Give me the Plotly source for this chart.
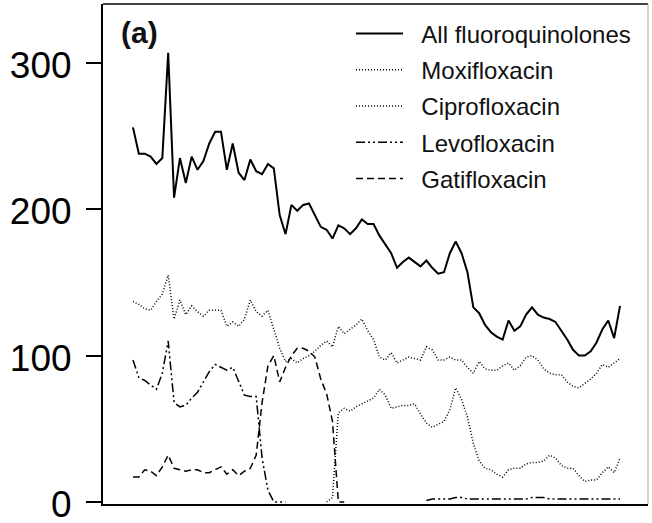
import plotly.graph_objects as go

months = list(range(84))

all_fq = [256, 238, 238, 236, 231, 235, 307, 208, 235, 218,
          236, 227, 233, 245, 253, 253, 227, 245, 225, 220,
          234, 226, 224, 231, 228, 196, 183, 203, 199, 203,
          204, 196, 188, 186, 180, 189, 187, 183, 187, 193,
          190, 190, 182, 176, 170, 160, 164, 167, 164, 161,
          165, 160, 156, 157, 170, 178, 170, 157, 133, 129,
          121, 116, 113, 111, 124, 117, 120, 128, 133, 128,
          126, 125, 123, 117, 111, 104, 100, 100, 103, 109,
          118, 124, 112, 134]

moxifloxacin = [None] * 33 + [
    0, 3, 61, 64, 62, 65, 67, 69, 71, 77,
    73, 64, 65, 66, 66, 67, 60, 54, 51, 53,
    55, 63, 78, 70, 58, 40, 28, 23, 22, 19,
    17, 22, 23, 23, 26, 27, 27, 28, 32, 30,
    25, 23, 23, 18, 14, 15, 15, 20, 24, 20,
    30]

ciprofloxacin = [137, 135, 132, 131, 137, 142, 155, 125, 138, 128,
                 134, 130, 127, 131, 131, 131, 120, 123, 120, 125,
                 138, 130, 127, 131, 118, 105, 96, 98, 95, 98,
                 100, 103, 107, 110, 106, 120, 115, 118, 121, 125,
                 117, 111, 99, 97, 102, 95, 97, 99, 98, 97,
                 106, 104, 97, 97, 99, 97, 97, 92, 88, 96,
                 91, 90, 90, 93, 95, 90, 93, 99, 100, 97,
                 91, 88, 87, 87, 82, 79, 78, 81, 84, 88,
                 94, 92, 95, 98]

levofloxacin = [97, 85, 83, 80, 77, 88, 110, 68, 65, 66,
                71, 75, 82, 89, 94, 92, 90, 92, 82, 73,
                72, 72, 30, 8, 0, 0, 0] + [None] * 23 + [
                1, 2, 2, 2, 2, 3, 3, 2, 2, 2,
                2, 2, 2, 2, 2, 2, 2, 2, 3, 3,
                3, 2, 2, 2, 2, 2, 2, 2, 2, 2,
                2, 2, 2, 2]

gatifloxacin = [17, 17, 22, 21, 18, 24, 32, 23, 22, 21,
                22, 22, 20, 20, 22, 24, 19, 22, 18, 21,
                23, 32, 68, 93, 100, 82, 92, 100, 105, 105,
                103, 99, 84, 74, 55, 0, 0] + [None] * 47

y_ticks = [0, 100, 200, 300]
y_tick_labels = ["0", "100", "200", "300"]

series = [
    ("All fluoroquinolones", all_fq, dict(color="black", width=2, dash="solid")),
    ("Moxifloxacin", moxifloxacin, dict(color="black", width=1.5, dash="1px,2px")),
    ("Ciprofloxacin", ciprofloxacin, dict(color="black", width=1.5, dash="1px,2px")),
    ("Levofloxacin", levofloxacin, dict(color="black", width=1.5, dash="9px,3px,2px,3px,2px,3px")),
    ("Gatifloxacin", gatifloxacin, dict(color="black", width=1.5, dash="7px,4px")),
]

fig = go.Figure()
for name, vals, line in series:
    fig.add_trace(go.Scatter(x=months, y=vals, mode="lines",
                             name="\u00a0\u00a0" + name,
                             line=line, legendgroup=name, connectgaps=False))

fig.update_layout(
    width=652, height=523,
    margin=dict(l=103, r=4, t=4, b=19, autoexpand=False),
    paper_bgcolor="white", plot_bgcolor="white",
    font=dict(family="Liberation Sans, Arial, sans-serif", color="black"),
    showlegend=True,
    legend=dict(x=0.455, y=0.985, xanchor="left", yanchor="top",
                bgcolor="rgba(0,0,0,0)", borderwidth=0,
                font=dict(size=24, color="#111"),
                itemwidth=47, tracegroupgap=2),
    xaxis=dict(range=[-5.11, 87.77], showgrid=False, zeroline=False,
               showticklabels=False, ticks="", showline=True,
               linecolor="black", linewidth=2),
    yaxis=dict(range=[-1.4, 340.3], showgrid=False, zeroline=False,
               tickmode="array", tickvals=y_ticks, ticktext=y_tick_labels,
               ticks="outside", ticklen=15, tickwidth=1.5, tickcolor="black",
               tickfont=dict(size=37, color="black", family="Liberation Sans, Arial, sans-serif"),
               ticklabelstandoff=7, ticklabelshift=2, ticklabeloverflow="allow",
               showline=True, linecolor="black", linewidth=2),
)

fig.add_shape(type="line", xref="paper", yref="paper", x0=0, x1=1, y0=1, y1=1,
              line=dict(color="#444", width=2))
fig.add_shape(type="line", xref="paper", yref="paper", x0=1, x1=1, y0=0, y1=1,
              line=dict(color="#aaa", width=1))

fig.add_annotation(text="<b>(a)</b>", xref="paper", yref="paper",
                   x=0.03, y=0.98, xanchor="left", yanchor="top",
                   showarrow=False, font=dict(size=30, color="#111"))

fig.write_html("out.html", config={"displayModeBar": False},
               post_script="document.body.style.margin='0';document.body.style.padding='0';")
